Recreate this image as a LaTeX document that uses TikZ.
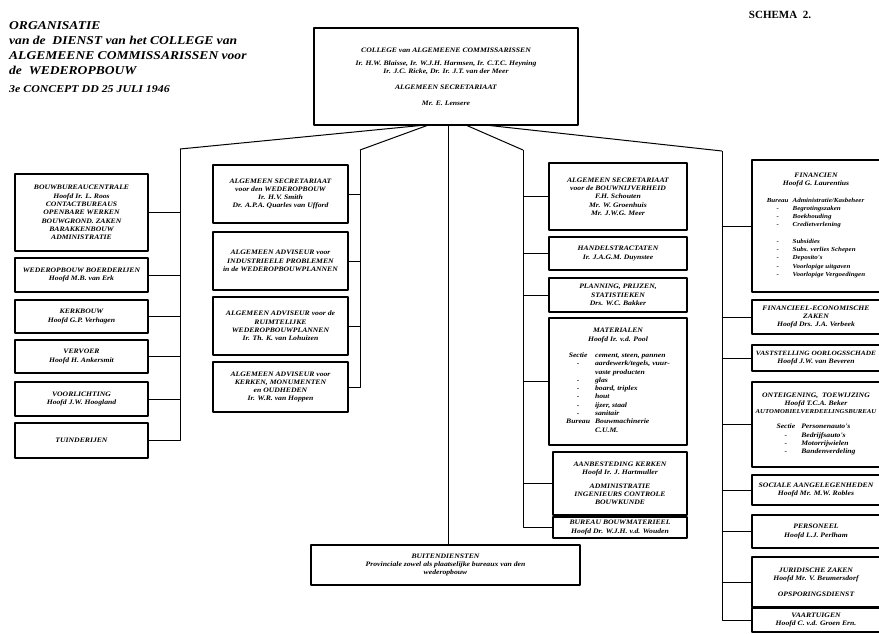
\documentclass[tikz,border=0pt]{standalone}
\usepackage{fontspec}
\setmainfont{Liberation Serif}
\newfontfamily\widefont{Liberation Serif}[FakeStretch=1.13]
\usepackage{tikz}

\begin{document}
\begin{tikzpicture}[x=1pt,y=-1pt,line join=bevel,
  box/.style={draw,line width=1.1pt,inner sep=1pt,align=center,font=\widefont\fontsize{6.8}{8.3}\selectfont\bfseries\itshape},
  wire/.style={line width=1pt},]
\useasboundingbox [fill=white] (0,0) rectangle (879,633);
%%
\node (node_title) at (9,21) [anchor=north west,inner sep=0pt,align=left,font=\widefont\fontsize{12}{15}\selectfont\bfseries\itshape] {ORGANISATIE\\van de \ DIENST van het COLLEGE van\\ALGEMEENE COMMISSARISSEN voor\\de \ WEDEROPBOUW\\[3pt]{\fontsize{10.5}{15}\selectfont 3e CONCEPT DD 25 JULI 1946}};
\node (node_schema) at (780,15) [inner sep=0pt,font=\fontsize{11}{13}\selectfont\bfseries] {SCHEMA \ 2.};
%%
\node (node_top) at (446,76.5) [box,minimum width=264,minimum height=97] {COLLEGE van ALGEMEENE COMMISSARISSEN\\[5pt]Ir. H.W. Blaisse, Ir. W.J.H. Harmsen, Ir. C.T.C. Heyning\\Ir. J.C. Ricke, Dr. Ir. J.T. van der Meer\\[7pt]ALGEMEEN SECRETARIAAT\\[8pt]Mr. E. Lensere};
\node (node_buiten) at (445.5,565) [box,minimum width=269,minimum height=40] {BUITENDIENSTEN\\Provinciale zowel als plaatselijke bureaux van den\\wederopbouw};
%% left column
\node (node_bbc) at (81.5,212.5) [box,minimum width=133,minimum height=77] {BOUWBUREAUCENTRALE\\Hoofd Ir. L. Roos\\CONTACTBUREAUS\\OPENBARE WERKEN\\BOUWGROND. ZAKEN\\BARAKKENBOUW\\ADMINISTRATIE};
\node (node_boer) at (81.5,275) [box,minimum width=133,minimum height=34] {WEDEROPBOUW BOERDERIJEN\\Hoofd M.B. van Erk};
\node (node_kerk) at (81.5,316.5) [box,minimum width=133,minimum height=33] {KERKBOUW\\Hoofd G.P. Verhagen};
\node (node_verv) at (81.5,356.5) [box,minimum width=133,minimum height=33] {VERVOER\\Hoofd H. Ankersmit};
\node (node_voorl) at (81.5,399) [box,minimum width=133,minimum height=34] {VOORLICHTING\\Hoofd J.W. Hoogland};
\node (node_tuin) at (81.5,440.5) [box,minimum width=133,minimum height=35] {TUINDERIJEN};
%% second column
\node (node_secr) at (280.5,194) [box,minimum width=135,minimum height=58] {ALGEMEEN SECRETARIAAT\\voor den WEDEROPBOUW\\Ir. H.V. Smith\\Dr. A.P.A. Quarles van Ufford};
\node (node_ind) at (280.5,261) [box,minimum width=135,minimum height=58] {ALGEMEEN ADVISEUR voor\\INDUSTRIEELE PROBLEMEN\\in de WEDEROPBOUWPLANNEN};
\node (node_ruimt) at (280.5,326) [box,minimum width=135,minimum height=58] {ALGEMEEN ADVISEUR voor de\\RUIMTELIJKE\\WEDEROPBOUWPLANNEN\\Ir. Th. K. van Lohuizen};
\node (node_monum) at (280.5,387) [box,minimum width=135,minimum height=50] {ALGEMEEN ADVISEUR voor\\KERKEN, MONUMENTEN\\en OUDHEDEN\\Ir. W.R. van Hoppen};
%% third column
\node (node_bouwn) at (618,196.5) [box,minimum width=138,minimum height=67] {ALGEMEEN SECRETARIAAT\\voor de BOUWNIJVERHEID\\F.H. Schouten\\Mr. W. Groenhuis\\Mr. J.W.G. Meer};
\node (node_hand) at (618,253.5) [box,minimum width=138,minimum height=33] {HANDELSTRACTATEN\\Ir. J.A.G.M. Duynstee};
\node (node_plan) at (618,295) [box,minimum width=138,minimum height=34] {PLANNING, PRIJZEN,\\STATISTIEKEN\\Drs. W.C. Bakker};
\node (node_mat) at (618,381.5) [box,minimum width=138,minimum height=127] {MATERIALEN\\Hoofd Ir. v.d. Pool\\[8pt]%
\begin{tabular}{@{}c@{\hspace{5pt}}l@{}}
Sectie & cement, steen, pannen\\
- & aardewerk/tegels, vuur-\\
 & vaste producten\\
- & glas\\
- & board, triplex\\
- & hout\\
- & ijzer, staal\\
- & sanitair\\
Bureau & Bouwmachinerie\\
 & C.U.M.
\end{tabular}};
\node (node_aanb) at (620,483.5) [box,minimum width=134,minimum height=63] {AANBESTEDING KERKEN\\Hoofd Ir. J. Hartmuller\\[5pt]ADMINISTRATIE\\INGENIEURS CONTROLE\\BOUWKUNDE};
\node (node_bmat) at (620,527.5) [box,minimum width=134,minimum height=21] {BUREAU BOUWMATERIEEL\\Hoofd Dr. W.J.H. v.d. Wouden};
%% fourth column
\node (node_fin) at (816,226) [box,minimum width=128,minimum height=132] {FINANCIEN\\Hoofd G. Laurentius\\[8pt]%
{\fontsize{6.2}{8.3}\selectfont
\begin{tabular}{@{}c@{\hspace{4pt}}l@{}}
Bureau & Administratie/Kasbeheer\\
- & Begrotingszaken\\
- & Boekhouding\\
- & Credietverlening\\[8pt]
- & Subsidies\\
- & Subs. verlies Schepen\\
- & Deposito's\\
- & Voorlopige uitgaven\\
- & Voorlopige Vergoedingen
\end{tabular}}};
\node (node_fec) at (816,317) [box,minimum width=128,minimum height=34] {FINANCIEEL-ECONOMISCHE\\ZAKEN\\Hoofd Drs. J.A. Verbeek};
\node (node_oorl) at (816,358) [box,minimum width=128,minimum height=26] {{\fontsize{6.5}{8.3}\selectfont VASTSTELLING OORLOGSSCHADE}\\Hoofd J.W. van Beveren};
\node (node_onteig) at (816,424.5) [box,minimum width=128,minimum height=85] {ONTEIGENING, \ TOEWIJZING\\Hoofd T.C.A. Beker\\{\fontsize{6}{8.3}\selectfont AUTOMOBIELVERDEELINGSBUREAU}\\[8pt]%
\begin{tabular}{@{}c@{\hspace{6pt}}l@{}}
Sectie & Personenauto's\\
- & Bedrijfsauto's\\
- & Motorrijwielen\\
- & Bandenverdeling
\end{tabular}};
\node (node_soc) at (816,490) [box,minimum width=128,minimum height=30] {SOCIALE AANGELEGENHEDEN\\Hoofd Mr. M.W. Robles};
\node (node_pers) at (816,531.5) [box,minimum width=128,minimum height=33] {PERSONEEL\\Hoofd L.J. Perlham};
\node (node_jur) at (816,582) [box,minimum width=128,minimum height=50] {JURIDISCHE ZAKEN\\Hoofd Mr. V. Beumersdorf\\[7pt]OPSPORINGSDIENST};
\node (node_vaart) at (816,620) [box,minimum width=128,minimum height=24] {VAARTUIGEN\\Hoofd C. v.d. Groen Ern.};
%% trunks
\coordinate (trunk_a) at (180,149);
\coordinate (trunk_b) at (360,150);
\coordinate (trunk_c) at (523,150);
\coordinate (trunk_d) at (722,151);
\draw [wire] ([xshift=-26pt]node_top.south) -- (trunk_a);
\draw [wire] ([xshift=-19pt]node_top.south) -- (trunk_b);
\draw [wire] ([xshift=21pt]node_top.south) -- (trunk_c);
\draw [wire] ([xshift=44pt]node_top.south) -- (trunk_d);
\draw [wire] ([xshift=2pt]node_top.south) -- ([xshift=2.5pt]node_buiten.north);
%
\draw [wire] (trunk_a) |- (node_tuin.east);
\draw [wire] (node_bbc.east) -- (node_bbc.east -| trunk_a);
\draw [wire] (node_boer.east) -- (node_boer.east -| trunk_a);
\draw [wire] (node_kerk.east) -- (node_kerk.east -| trunk_a);
\draw [wire] (node_verv.east) -- (node_verv.east -| trunk_a);
\draw [wire] (node_voorl.east) -- (node_voorl.east -| trunk_a);
%
\draw [wire] (trunk_b) |- (node_monum.east);
\draw [wire] (node_secr.east) -- (node_secr.east -| trunk_b);
\draw [wire] (node_ind.east) -- (node_ind.east -| trunk_b);
\draw [wire] (node_ruimt.east) -- (node_ruimt.east -| trunk_b);
%
\draw [wire] (trunk_c) |- (node_bmat.west);
\draw [wire] (node_bouwn.west) -- (node_bouwn.west -| trunk_c);
\draw [wire] (node_hand.west) -- (node_hand.west -| trunk_c);
\draw [wire] (node_plan.west) -- (node_plan.west -| trunk_c);
\draw [wire] (node_mat.west) -- (node_mat.west -| trunk_c);
\draw [wire] (node_aanb.west) -- (node_aanb.west -| trunk_c);
%
\draw [wire] (trunk_d) |- (node_vaart.west);
\draw [wire] (node_fin.west) -- (node_fin.west -| trunk_d);
\draw [wire] (node_fec.west) -- (node_fec.west -| trunk_d);
\draw [wire] (node_oorl.west) -- (node_oorl.west -| trunk_d);
\draw [wire] (node_onteig.west) -- (node_onteig.west -| trunk_d);
\draw [wire] (node_soc.west) -- (node_soc.west -| trunk_d);
\draw [wire] (node_pers.west) -- (node_pers.west -| trunk_d);
\draw [wire] (node_jur.west) -- (node_jur.west -| trunk_d);
%
\end{tikzpicture}
\end{document}
